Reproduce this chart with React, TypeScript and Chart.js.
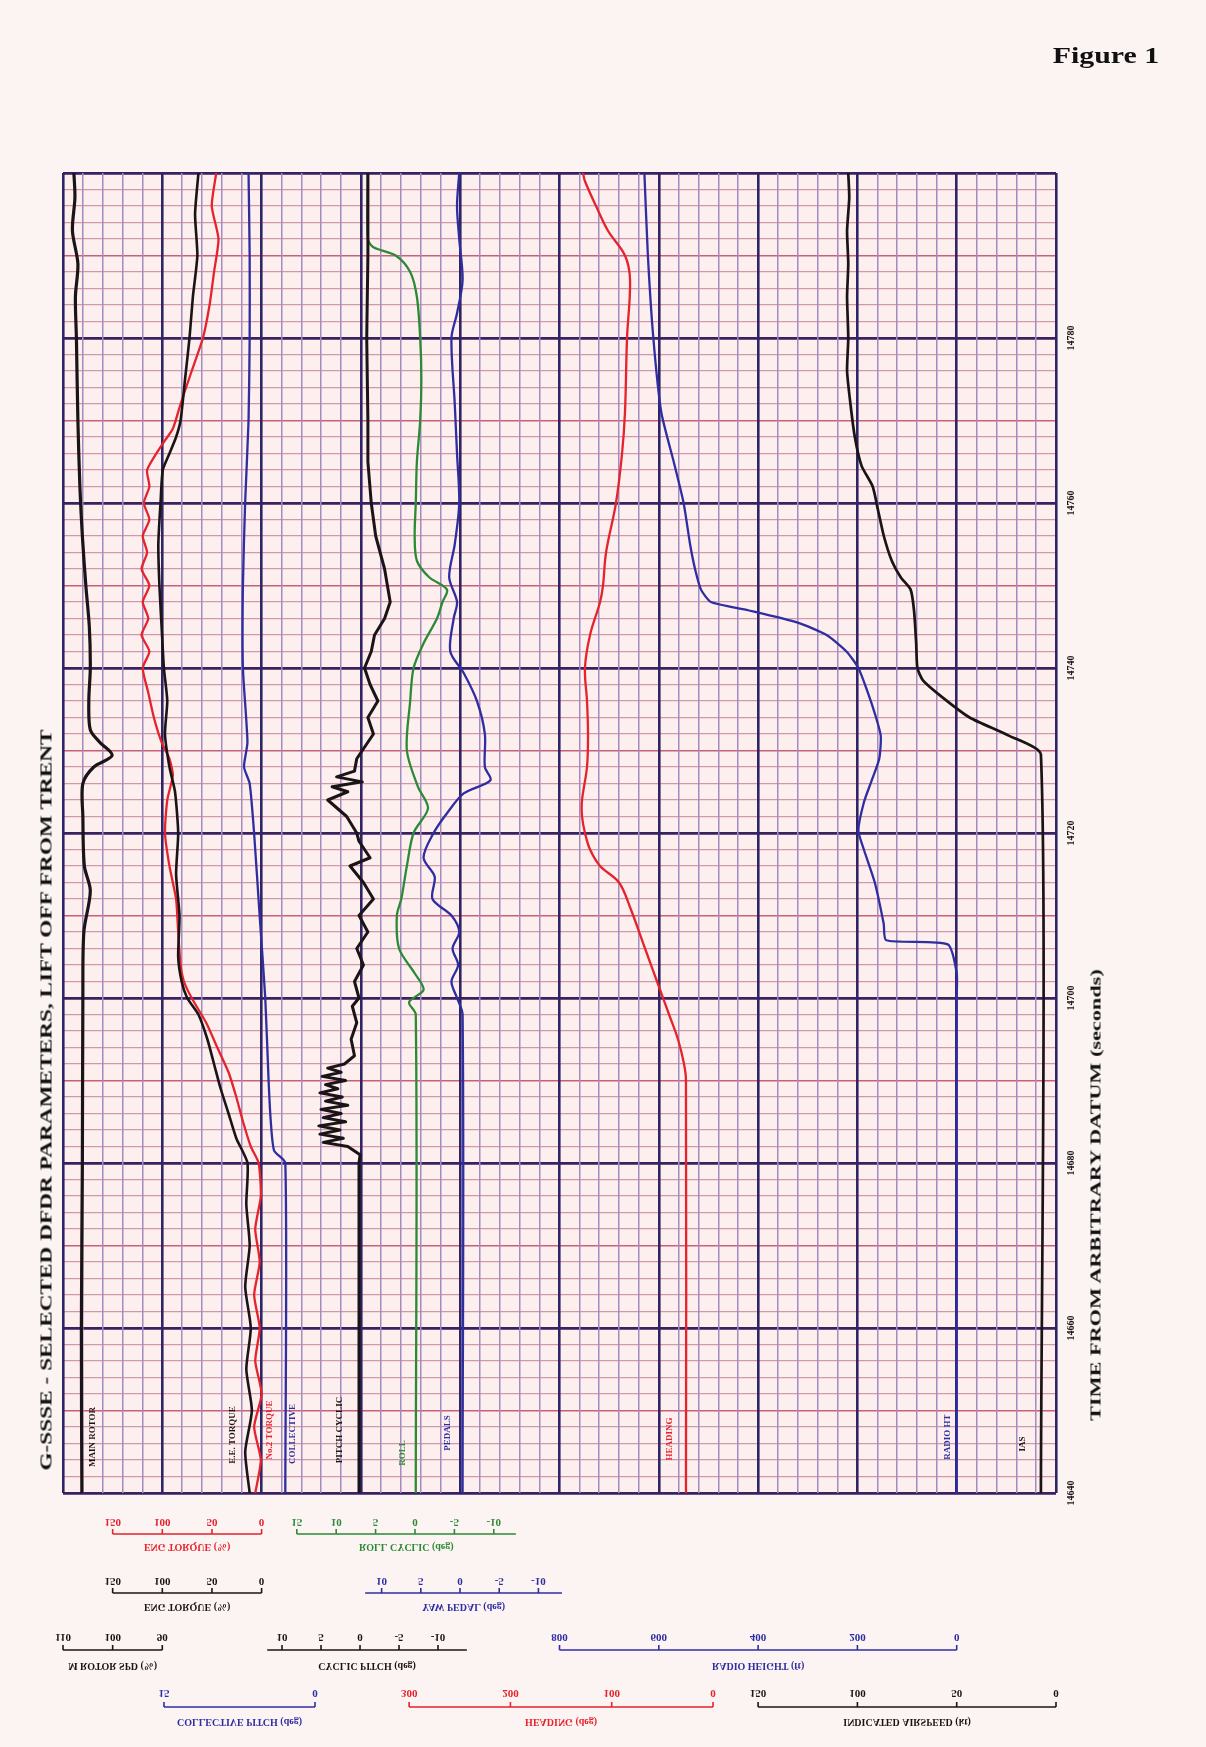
import React, { useEffect, useLayoutEffect, useRef } from "react";
import { Chart, registerables } from "chart.js";

Chart.register(...registerables);

// ---------------- time axis ----------------
const timeTickLabels = [14640, 14660, 14680, 14700, 14720, 14740, 14760, 14780];

// ---------------- series (time in s, value in parameter units) ----------------
const rotorTime = [14640, 14660, 14680, 14700, 14708, 14713, 14716, 14722, 14726, 14728, 14729.4, 14731, 14732.5, 14736, 14740, 14745, 14750, 14756, 14762, 14770, 14780, 14785, 14789, 14793, 14797, 14800];
const rotorSpeed = [106.2, 106.3, 106.1, 106.0, 105.8, 104.5, 105.7, 106.0, 106.0, 103.8, 100.1, 102.6, 104.5, 104.8, 104.5, 104.7, 105.4, 106.1, 106.6, 107.0, 107.3, 107.5, 107.0, 108.1, 107.6, 107.8];

const torqueBlackTime = [14640, 14645, 14650, 14655, 14660, 14665, 14670, 14675, 14680, 14683, 14686, 14689, 14692, 14695, 14698, 14700, 14702, 14705, 14710, 14715, 14720, 14725, 14728, 14732, 14736, 14740, 14745, 14750, 14755, 14760, 14764, 14766, 14768, 14770, 14775, 14780, 14785, 14790, 14795, 14800];
const torqueBlack = [12.0, 16.5, 9.8, 15.4, 10.9, 16.5, 12.0, 15.4, 14.2, 25.5, 33.3, 41.2, 47.9, 54.6, 63.6, 74.9, 80.5, 84.0, 82.7, 86.1, 84.0, 87.2, 92.8, 97.3, 95.0, 98.4, 100.7, 102.9, 104.0, 101.8, 99.5, 92.8, 86.1, 81.6, 77.1, 72.6, 69.2, 64.7, 67.0, 63.6];

const torqueRedTime = [14640, 14644, 14648, 14652, 14656, 14660, 14664, 14668, 14672, 14676, 14680, 14682, 14685, 14688, 14691, 14694, 14697, 14700, 14702, 14704, 14708, 14712, 14716, 14720, 14724, 14727, 14729, 14731, 14734, 14737, 14740, 14742, 14744, 14746, 14748, 14750, 14752, 14754, 14756, 14758, 14760, 14762, 14764, 14767, 14769, 14772, 14776, 14780, 14784, 14788, 14792, 14796, 14800];
const torqueRed = [6.4, 0.8, 7.5, 0, 6.4, 1.9, 7.5, 1.9, 6.4, 0.8, 3.0, 10.9, 18.7, 25.5, 33.3, 44.6, 55.8, 70.4, 78.2, 81.6, 84.0, 86.1, 92.8, 97.3, 95.0, 89.4, 92.8, 100.7, 108.5, 114.1, 119.7, 113.0, 120.9, 114.1, 119.7, 113.0, 120.9, 115.3, 119.7, 113.0, 118.6, 113.0, 115.3, 100.7, 89.4, 81.6, 70.4, 59.1, 52.4, 47.9, 43.4, 50.2, 45.7];

const collectiveTime = [14640, 14680, 14681.5, 14685, 14690, 14700, 14710, 14720, 14726, 14728, 14731, 14740, 14750, 14760, 14770, 14780, 14790, 14800];
const collectivePitch = [2.95, 2.95, 4.06, 4.39, 4.61, 4.94, 5.5, 6.05, 6.49, 7.05, 6.71, 7.16, 7.16, 6.94, 6.6, 6.49, 6.49, 6.6];

const cyclicTime = [14640, 14680, 14681, 14682, 14682.5, 14683, 14683.5, 14684, 14684.5, 14685, 14685.5, 14686, 14686.5, 14687, 14687.5, 14688, 14688.5, 14689, 14689.5, 14690, 14690.5, 14691, 14691.5, 14692, 14693, 14695, 14697, 14699, 14700, 14702, 14704, 14706, 14708, 14710, 14712, 14714, 14716, 14717, 14719, 14720, 14722, 14724, 14725, 14725.6, 14726.2, 14726.8, 14727.5, 14729, 14732, 14734, 14736, 14738, 14740, 14742, 14744, 14746, 14748, 14752, 14756, 14760, 14765, 14770, 14780, 14790, 14800];
const cyclicPitch = [0.13, 0.13, -0.01, 1.57, 4.71, 2.14, 5.14, 2.57, 5.28, 1.85, 4.71, 2.42, 5.0, 1.57, 4.42, 2.28, 5.14, 2.85, 4.42, 1.85, 4.85, 2.42, 4.14, 2.0, 0.71, 1.14, 0.42, 0.99, 0.13, 0.71, -0.44, 0.42, -1.01, 0.13, -1.72, -0.44, 1.28, -1.29, 0.13, 0.42, 1.71, 4.14, 1.57, 3.57, -0.29, 3.0, 0.71, 0.42, -1.72, -1.01, -2.29, -1.29, -0.58, -1.44, -1.86, -3.15, -3.87, -3.15, -2.01, -1.44, -1.01, -1.01, -0.86, -1.01, -1.01];

const rollTime = [14640, 14698, 14699.5, 14701, 14703, 14706, 14710, 14712, 14716, 14720, 14723, 14725.6, 14730, 14736, 14740, 14743, 14746, 14748, 14749.5, 14751, 14753, 14756, 14760, 14765, 14770, 14775, 14780, 14785, 14788, 14790, 14791, 14792, 14800];
const rollCyclic = [-0.1, -0.1, 0.75, -1.09, 0.04, 2.02, 2.3, 1.74, 1.03, 0.18, -1.65, -0.38, 1.03, 0.61, 0.18, -1.09, -2.79, -3.49, -4.06, -1.8, -0.24, 0.04, -0.1, -0.24, -0.66, -0.81, -0.66, -0.24, 0.61, 2.45, 5.27, 5.98, 5.98];

const yawTime = [14640, 14698, 14700, 14702, 14704, 14706, 14708, 14710, 14712, 14714.7, 14717, 14720, 14722.4, 14724.8, 14726.4, 14728, 14732, 14736, 14739.4, 14742, 14746, 14748, 14751, 14755, 14760, 14766, 14772, 14780, 14783, 14787, 14792, 14796, 14800];
const yawPedal = [-0.33, -0.33, 0.38, 1.09, 0.24, 0.95, 0.1, 1.09, 3.51, 3.23, 4.65, 3.37, 1.66, -0.47, -3.88, -3.17, -3.17, -2.16, -0.47, 1.24, 0.81, 0.38, 1.38, 0.67, 0.1, 0.38, 0.67, 1.09, 0.38, -0.33, 0.1, 0.38, 0.1];

const headingTime = [14640, 14690, 14692, 14695, 14698, 14701, 14706, 14711, 14714, 14716, 14718, 14720, 14722, 14724, 14728, 14732, 14736, 14740, 14744, 14748, 14750, 14754, 14760, 14766, 14771, 14780, 14787, 14790, 14793, 14796, 14799, 14800];
const heading = [26.7, 26.7, 28.6, 34.6, 43.4, 52.3, 67.1, 81.9, 92.8, 111.5, 121.4, 126.4, 129.3, 129.3, 124.4, 123.4, 124.4, 126.4, 121.4, 111.5, 108.6, 105.6, 95.8, 89.8, 86.9, 84.9, 81.9, 86.9, 103.7, 115.5, 126.4, 128.3];

const radioTime = [14640, 14700, 14703, 14706.5, 14707, 14709, 14714, 14718, 14720.3, 14723.7, 14726.4, 14729, 14731.8, 14734.5, 14737.2, 14740, 14742, 14744, 14745.5, 14747, 14748, 14749.5, 14752, 14755, 14760, 14765, 14771, 14780, 14790, 14800];
const radioHeight = [0, 0, 0, 18, 142, 147, 165, 187, 198, 187, 171, 156, 153, 165, 180, 198, 222, 262, 320, 420, 495, 515, 527, 537, 550, 570, 595, 611, 622, 629];

const airspeedTime = [14640, 14729.5, 14731.8, 14734, 14736.5, 14738.5, 14740, 14743, 14747, 14749.5, 14751, 14753, 14756, 14759, 14762, 14764.5, 14768, 14772, 14776, 14780, 14785, 14789, 14793, 14797, 14800];
const airspeed = [7.6, 7.6, 23.8, 43.5, 57.5, 67.0, 69.8, 70.4, 71.5, 73.2, 78.2, 82.7, 86.7, 89.5, 92.3, 97.9, 101.3, 103.5, 105.2, 104.6, 105.2, 104.6, 105.2, 104.1, 104.6];

// ---------------- scale-bar tick labels ----------------
const torqueTicks = [150, 100, 50, 0];
const rollTicks = [15, 10, 5, 0, -5, -10];
const yawTicks = [10, 5, 0, -5, -10];
const rotorTicks = [110, 100, 90];
const cyclicTicks = [10, 5, 0, -5, -10];
const radioTicks = [800, 600, 400, 200, 0];
const collectiveTicks = [15, 0];
const headingTicks = [300, 200, 100, 0];
const airspeedTicks = [150, 100, 50, 0];

// ---------------- styling / layout ----------------
const BLACK = "#1b1416";
const RED = "#e6222c";
const BLUE = "#2e2ea2";
const GREEN = "#2c8a36";
const PAGE_BG = "#fcf4f2";
const PLOT_BG = "#fcefee";
const FONT = "'Liberation Serif', 'DejaVu Serif', serif";

// value shown at the left and right edge of the plot frame, for each parameter axis
const axisEdges: Record<string, [number, number]> = {
  mr: [110, -90],
  tq: [200, -800],
  col: [25.03, -73.6],
  pc: [38.08, -89.23],
  roll: [44.67, -81.35],
  yaw: [50.64, -76.02],
  hdg: [641.7, -338.6],
  rh: [1800, -200],
  ias: [500, 0],
};

const series = [
  { name: "Main rotor speed", axis: "mr", time: rotorTime, values: rotorSpeed, color: BLACK, width: 3.2, tension: 0.3 },
  { name: "Eng torque (black)", axis: "tq", time: torqueBlackTime, values: torqueBlack, color: BLACK, width: 2.6, tension: 0.2 },
  { name: "Eng torque (red)", axis: "tq", time: torqueRedTime, values: torqueRed, color: RED, width: 2.3, tension: 0.2 },
  { name: "Collective pitch", axis: "col", time: collectiveTime, values: collectivePitch, color: BLUE, width: 2.3, tension: 0.2 },
  { name: "Cyclic pitch", axis: "pc", time: cyclicTime, values: cyclicPitch, color: BLACK, width: 3, tension: 0 },
  { name: "Roll cyclic", axis: "roll", time: rollTime, values: rollCyclic, color: GREEN, width: 2.3, tension: 0.3 },
  { name: "Yaw pedal", axis: "yaw", time: yawTime, values: yawPedal, color: BLUE, width: 2.3, tension: 0.3 },
  { name: "Heading", axis: "hdg", time: headingTime, values: heading, color: RED, width: 2.3, tension: 0.35 },
  { name: "Radio height", axis: "rh", time: radioTime, values: radioHeight, color: BLUE, width: 2.3, tension: 0.2 },
  { name: "Indicated airspeed", axis: "ias", time: airspeedTime, values: airspeed, color: BLACK, width: 2.7, tension: 0.2 },
];

const rows = [
  { label: 1522, line: 1534, title: 1547 },
  { label: 1581, line: 1593, title: 1607 },
  { label: 1637, line: 1650, title: 1666 },
  { label: 1693, line: 1707, title: 1722 },
];

const scaleBars = [
  { axis: "tq", ticks: torqueTicks, from: 150, to: 0, row: 0, color: RED, title: "ENG TORQUE (%)" },
  { axis: "roll", ticks: rollTicks, from: 15, to: -12.8, row: 0, color: GREEN, title: "ROLL CYCLIC (deg)" },
  { axis: "tq", ticks: torqueTicks, from: 150, to: 0, row: 1, color: BLACK, title: "ENG TORQUE (%)" },
  { axis: "yaw", ticks: yawTicks, from: 12.1, to: -13, row: 1, color: BLUE, title: "YAW PEDAL (deg)" },
  { axis: "mr", ticks: rotorTicks, from: 110, to: 90, row: 2, color: BLACK, title: "M ROTOR SPD (%)" },
  { axis: "pc", ticks: cyclicTicks, from: 11.9, to: -13.7, row: 2, color: BLACK, title: "CYCLIC PITCH (deg)" },
  { axis: "rh", ticks: radioTicks, from: 800, to: 0, row: 2, color: BLUE, title: "RADIO HEIGHT (ft)" },
  { axis: "col", ticks: collectiveTicks, from: 15, to: 0, row: 3, color: BLUE, title: "COLLECTIVE PITCH (deg)" },
  { axis: "hdg", ticks: headingTicks, from: 300, to: 0, row: 3, color: RED, title: "HEADING (deg)" },
  { axis: "ias", ticks: airspeedTicks, from: 150, to: 0, row: 3, color: BLACK, title: "INDICATED AIRSPEED (kt)" },
];

const plotLabels = [
  { text: "MAIN ROTOR", x: 93, y: 1437, color: BLACK },
  { text: "E.E. TORQUE", x: 233, y: 1435, color: BLACK },
  { text: "No.2 TORQUE", x: 270, y: 1430, color: RED },
  { text: "COLLECTIVE", x: 293, y: 1434, color: BLUE },
  { text: "PITCH CYCLIC", x: 340, y: 1430, color: BLACK },
  { text: "ROLL", x: 403, y: 1453, color: GREEN },
  { text: "PEDALS", x: 448, y: 1433, color: BLUE },
  { text: "HEADING", x: 670, y: 1439, color: RED },
  { text: "RADIO HT", x: 948, y: 1437, color: BLUE },
  { text: "IAS", x: 1023, y: 1444, color: BLACK },
];

function drawFlipped(ctx: CanvasRenderingContext2D, text: string, x: number, y: number) {
  ctx.save();
  ctx.translate(x, y);
  ctx.scale(1, -1);
  ctx.fillText(text, 0, 0);
  ctx.restore();
}

const overlayPlugin = {
  id: "overlay",
  beforeDraw(chart: any) {
    const { ctx, chartArea: a } = chart;
    ctx.save();
    ctx.fillStyle = PAGE_BG;
    ctx.fillRect(0, 0, chart.width, chart.height);
    ctx.fillStyle = PLOT_BG;
    ctx.fillRect(a.left, a.top, a.right - a.left, a.bottom - a.top);
    ctx.restore();
  },
  afterDraw(chart: any) {
    const ctx: CanvasRenderingContext2D = chart.ctx;
    ctx.save();
    // in-plot parameter names
    ctx.font = `bold 9px ${FONT}`;
    ctx.textAlign = "center";
    ctx.textBaseline = "middle";
    for (const l of plotLabels) {
      ctx.save();
      ctx.translate(l.x, l.y);
      ctx.rotate(-Math.PI / 2);
      ctx.fillStyle = l.color;
      ctx.fillText(l.text, 0, 0);
      ctx.restore();
    }
    // time tick labels on the right
    const ts = chart.scales.time;
    ctx.font = `bold 10px ${FONT}`;
    ctx.fillStyle = BLACK;
    for (const t of timeTickLabels) {
      const y = ts.getPixelForValue(t);
      ctx.save();
      ctx.translate(1071, y);
      ctx.rotate(-Math.PI / 2);
      ctx.fillText(String(t), 0, 0);
      ctx.restore();
    }
    // scale bars under the plot
    for (const b of scaleBars) {
      const sc = chart.scales[b.axis];
      const r = rows[b.row];
      const x1 = sc.getPixelForValue(b.from);
      const x2 = sc.getPixelForValue(b.to);
      ctx.strokeStyle = b.color;
      ctx.fillStyle = b.color;
      ctx.lineWidth = 1.6;
      ctx.beginPath();
      ctx.moveTo(x1, r.line);
      ctx.lineTo(x2, r.line);
      ctx.stroke();
      ctx.font = `bold 11px ${FONT}`;
      for (const v of b.ticks) {
        const x = sc.getPixelForValue(v);
        ctx.beginPath();
        ctx.moveTo(x, r.line);
        ctx.lineTo(x, r.line - 5);
        ctx.stroke();
        drawFlipped(ctx, String(v), x, r.label);
      }
      ctx.font = `bold 10px ${FONT}`;
      drawFlipped(ctx, b.title, (x1 + x2) / 2, r.title);
    }
    ctx.restore();
  },
};

function FitText({ text, cx, cy, length, angle, font, color }: any) {
  const ref = useRef<HTMLSpanElement>(null);
  useLayoutEffect(() => {
    const el = ref.current;
    if (!el) return;
    const w = el.offsetWidth || 1;
    el.style.transform = `translate(-50%, -50%) rotate(${angle}deg) scaleX(${length / w})`;
  }, [text, length, angle]);
  return (
    <span
      ref={ref}
      style={{
        position: "absolute",
        left: cx,
        top: cy,
        whiteSpace: "nowrap",
        font,
        color,
        lineHeight: 1,
        transformOrigin: "50% 50%",
        transform: `translate(-50%, -50%) rotate(${angle}deg)`,
      }}
    >
      {text}
    </span>
  );
}

export default function App() {
  const canvasRef = useRef<HTMLCanvasElement>(null);

  useEffect(() => {
    const canvas = canvasRef.current;
    if (!canvas) return;

    const scales: any = {
      time: {
        type: "linear",
        axis: "y",
        position: "left",
        min: 14640,
        max: 14800,
        ticks: { display: false, stepSize: 2 },
        border: { display: false },
        grid: {
          drawTicks: false,
          color: (c: any) => {
            const v = Math.round(c.tick?.value ?? 0);
            if (v % 20 === 0) return "#3a2160";
            if (v % 10 === 0) return "#c8607c";
            return "#cf98ac";
          },
          lineWidth: (c: any) => {
            const v = Math.round(c.tick?.value ?? 0);
            if (v % 20 === 0) return 2.8;
            if (v % 10 === 0) return 1.6;
            return 1.3;
          },
        },
      },
      grid: {
        type: "linear",
        axis: "x",
        position: "bottom",
        min: 0,
        max: 50,
        ticks: { display: false, stepSize: 1 },
        border: { display: false },
        grid: {
          drawTicks: false,
          color: (c: any) => (Math.round(c.tick?.value ?? 0) % 5 === 0 ? "#2e2466" : "#a28bbf"),
          lineWidth: (c: any) => (Math.round(c.tick?.value ?? 0) % 5 === 0 ? 2.6 : 1.5),
        },
      },
    };
    for (const id of Object.keys(axisEdges)) {
      const [left, right] = axisEdges[id];
      scales[id] = {
        type: "linear",
        axis: "x",
        display: false,
        reverse: left > right,
        min: Math.min(left, right),
        max: Math.max(left, right),
      };
    }

    const chart = new Chart(canvas, {
      type: "line",
      data: {
        datasets: series.map((s) => ({
          label: s.name,
          data: s.time.map((t, i) => ({ x: s.values[i], y: t })),
          xAxisID: s.axis,
          yAxisID: "time",
          borderColor: s.color,
          backgroundColor: s.color,
          borderWidth: s.width,
          pointRadius: 0,
          tension: s.tension,
          fill: false,
          borderJoinStyle: "round",
          borderCapStyle: "round",
        })),
      },
      options: {
        indexAxis: "y",
        responsive: false,
        maintainAspectRatio: false,
        animation: false,
        events: [],
        layout: { padding: { left: 63, top: 173, right: 150, bottom: 254 } },
        scales,
        plugins: { legend: { display: false }, tooltip: { enabled: false } },
      } as any,
      plugins: [overlayPlugin],
    });
    return () => chart.destroy();
  }, []);

  return (
    <div style={{ position: "absolute", left: 0, top: 0, width: 1206, height: 1747, background: PAGE_BG, overflow: "hidden" }}>
      <canvas ref={canvasRef} width={1206} height={1747} style={{ position: "absolute", left: 0, top: 0, width: 1206, height: 1747 }} />
      <FitText text="Figure 1" cx={1106} cy={55} length={107} angle={0} font={`bold 24px ${FONT}`} color="#111" />
      <FitText
        text="G-SSSE - SELECTED DFDR PARAMETERS, LIFT OFF FROM TRENT"
        cx={46}
        cy={1100}
        length={741}
        angle={-90}
        font={`bold 17px ${FONT}`}
        color="#111"
      />
      <FitText
        text="TIME FROM ARBITRARY DATUM (seconds)"
        cx={1096}
        cy={1195}
        length={451}
        angle={-90}
        font={`bold 15px ${FONT}`}
        color="#111"
      />
    </div>
  );
}
